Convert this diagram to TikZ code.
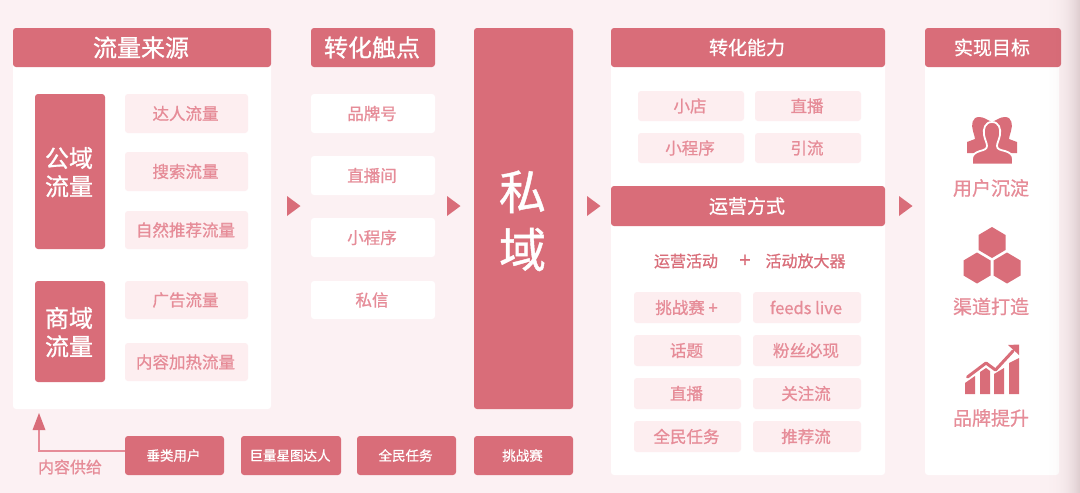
\documentclass[tikz,border=0pt]{standalone}
\usepackage{fontspec}
\setmainfont{Noto Sans CJK SC}[FakeBold=0.9]
\definecolor{bgc}{HTML}{FCF1F3}
\definecolor{mainc}{HTML}{D96D79}
\definecolor{lightc}{HTML}{FDEEF0}
\definecolor{softc}{HTML}{E68C98}
\tikzset{
  box/.style={rounded corners=3pt,inner sep=0pt,align=center},
  hd/.style={box,fill=mainc,text=white},
  panel/.style={box,fill=white},
  soft/.style={box,fill=lightc,text=softc,font=\fontsize{16.5}{20}\selectfont},
  plain/.style={box,fill=white,text=softc,font=\fontsize{16.5}{20}\selectfont},
  small/.style={hd,font=\fontsize{13.5}{16}\selectfont},
  big/.style={hd,font=\fontsize{24}{27}\selectfont},
  mid/.style={hd,font=\fontsize{19}{23}\selectfont},
  lab/.style={inner sep=0pt,text=softc,font=\fontsize{19}{23}\selectfont},
  act/.style={inner sep=0pt,text=mainc,font=\fontsize{16}{20}\selectfont},
  tri/.style={fill=mainc},
  icon/.style={fill=mainc},
}
\newcommand{\tx}[1]{\raisebox{-1pt}{#1\hspace*{2pt}}}
\newcommand{\twol}[3]{\raisebox{#3}[0pt][0pt]{\begin{tabular}{@{}c@{}}#1\\#2\end{tabular}}}
% \bx{name}{style}{x1}{y1}{x2}{y2}{text}
\newcommand{\bx}[7]{%
  \pgfmathsetmacro{\bxw}{#5-#3}\pgfmathsetmacro{\bxh}{#6-#4}%
  \pgfmathsetmacro{\bxx}{(#5+#3)/2}\pgfmathsetmacro{\bxy}{(#6+#4)/2}%
  \node[#2,minimum width=\bxw pt,minimum height=\bxh pt] (#1) at (\bxx,\bxy) {\tx{#7}};}
\newcommand{\trig}[1]{\fill[tri] (#1,196) -- (#1+13.5,206) -- (#1,216) -- cycle;}
\newcommand{\hexa}[2]{\fill[icon] (#1,#2-15.5) -- (#1+13.5,#2-7.5) -- (#1+13.5,#2+7.5) -- (#1,#2+15.5) -- (#1-13.5,#2+7.5) -- (#1-13.5,#2-7.5) -- cycle;}
\begin{document}
\begin{tikzpicture}[x=1pt,y=-1pt]
\useasboundingbox (0,0) rectangle (1080,493);
\fill[bgc] (0,0) rectangle (1080,493);
% panels
\bx{p1}{panel}{13}{40}{271}{409}{}
\bx{p3}{panel}{611}{40}{885}{475}{}
\bx{p4}{panel}{925}{40}{1059}{475}{}
% column 1
\bx{h1}{big}{13}{28}{271}{67}{流量来源}
\bx{g1}{big}{35}{94}{105}{249}{\twol{公域}{流量}{-9.5pt}}
\bx{g2}{big}{35}{281}{105}{382}{\twol{商域}{流量}{-9.5pt}}
\bx{a1}{soft}{125}{94}{248}{133}{达人流量}
\bx{a2}{soft}{125}{152}{248}{191}{搜索流量}
\bx{a3}{soft}{125}{211}{248}{249}{自然推荐流量}
\bx{a4}{soft}{125}{281}{248}{319}{广告流量}
\bx{a5}{soft}{125}{343}{248}{381}{内容加热流量}
% column 2
\bx{h2}{big}{311}{28}{435}{67}{转化触点}
\bx{b1}{plain}{311}{94}{435}{133}{品牌号}
\bx{b2}{plain}{311}{156}{435}{195}{直播间}
\bx{b3}{plain}{311}{218}{435}{257}{小程序}
\bx{b4}{plain}{311}{281}{435}{319}{私信}
% private
\bx{pv}{hd,font=\fontsize{47}{58}\selectfont}{474}{28}{573}{409}{\twol{私}{域}{-14pt}}
% column 3
\bx{h3}{mid}{611}{28}{885}{67}{转化能力}
\bx{c1}{soft}{638}{91}{744}{121}{小店}
\bx{c2}{soft}{755}{91}{861}{121}{直播}
\bx{c3}{soft}{638}{133}{744}{163}{小程序}
\bx{c4}{soft}{755}{133}{861}{163}{引流}
\bx{h5}{mid}{611}{186}{885}{226}{运营方式}
\node[act] (t1) at (686,261) {运营活动};
\node[act,font=\fontsize{20}{20}\selectfont] (t2) at (745,261) {+};
\node[act] (t3) at (805.5,261) {活动放大器};
\bx{d1}{soft}{634}{292}{741}{323}{挑战赛 +}
\bx{d2}{soft}{753}{292}{861}{323}{feeds live}
\bx{d3}{soft}{634}{335}{741}{366}{话题}
\bx{d4}{soft}{753}{335}{861}{366}{粉丝必现}
\bx{d5}{soft}{634}{378}{741}{409}{直播}
\bx{d6}{soft}{753}{378}{861}{409}{关注流}
\bx{d7}{soft}{634}{421}{741}{452}{全民任务}
\bx{d8}{soft}{753}{421}{861}{452}{推荐流}
% column 4
\bx{h4}{mid}{925}{28}{1061}{67}{实现目标}
\node[lab] (l1) at (991,188) {用户沉淀};
\node[lab] (l2) at (991,306.5) {渠道打造};
\node[lab] (l3) at (991,418) {品牌提升};
% bottom row
\bx{s1}{small}{125}{436}{224}{475}{垂类用户}
\bx{s2}{small}{241}{436}{341}{475}{巨量星图达人}
\bx{s3}{small}{357}{436}{456}{475}{全民任务}
\bx{s4}{small}{474}{436}{573}{475}{挑战赛}
\node[inner sep=0pt,text=softc,font=\fontsize{16}{20}\selectfont] (sup) at (70,467) {内容供给};
% supply connector
\coordinate (tip) at (39,413);
\coordinate (neck) at (39,429);
\draw[softc,line width=1.8pt] (s1.west |- 0,451) -| (neck);
\fill[mainc] (tip) -- (45.5,430) -- (32.5,430) -- cycle;
% triangles
\trig{287}\trig{447}\trig{587}\trig{899}
% people icon
\fill[icon] (979,117) .. controls (972,117) and (971,125) .. (973,131) .. controls (974,135) and (975,137) .. (975,139) -- (967,142) -- (967,153) -- (1017,153) -- (1017,142) -- (1009,139) .. controls (1009,137) and (1010,135) .. (1011,131) .. controls (1013,125) and (1012,117) .. (1005,117) .. controls (1000,117) and (997,120) .. (992,122) .. controls (987,120) and (984,117) .. (979,117) -- cycle;
\fill[icon,draw=white,line width=1.8pt] (992,122) .. controls (985,122) and (983,129) .. (984,135) .. controls (985,140) and (987,143) .. (987,146) .. controls (987,149) and (984,150) .. (980,151) .. controls (975,152.5) and (972,155) .. (972,159) -- (972,164.5) -- (1013,164.5) -- (1013,159) .. controls (1013,155) and (1010,152.5) .. (1005,151) .. controls (1000,150) and (997,149) .. (997,146) .. controls (997,143) and (999,140) .. (1000,135) .. controls (1001,129) and (999,122) .. (992,122) -- cycle;
\fill[white] (965,164.7) rectangle (1020,170);
% hexagons
\hexa{992}{242.5}\hexa{977}{268}\hexa{1007}{268}
% chart icon
\fill[icon] (965,394) -- (965,383) -- (975,376) -- (975,394) -- cycle;
\fill[icon] (980,394) -- (980,372) -- (986,368) -- (990,371) -- (990,394) -- cycle;
\fill[icon] (994,394) -- (994,374) -- (1004,368) -- (1004,394) -- cycle;
\fill[icon] (1009,394) -- (1009,363) -- (1019,358) -- (1019,394) -- cycle;
\draw[draw=mainc,line width=3pt,line cap=round,line join=round] (967.5,377) -- (986,363) -- (995.5,370) -- (1013,351);
\fill[icon] (1008,345) -- (1019,344.5) -- (1019,355) -- cycle;
% right-hand edge shade
\foreach \i in {0,...,39}{
  \pgfmathsetmacro{\op}{0.004+0.17*(\i/39)^3}
  \fill[black!60!mainc,opacity=\op] (1040+\i,0) rectangle (1041+\i,493);
}
\end{tikzpicture}
\end{document}
